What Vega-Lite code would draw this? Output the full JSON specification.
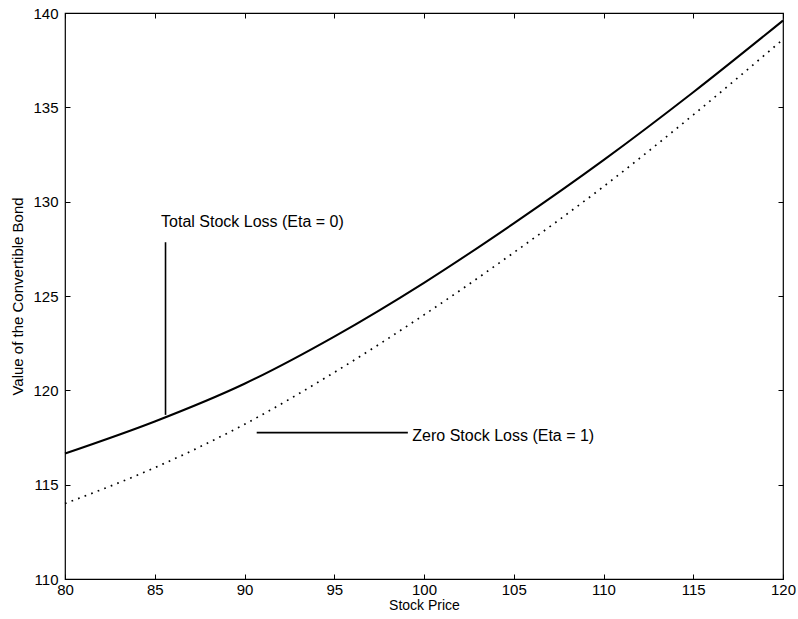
{
  "$schema": "https://vega.github.io/schema/vega-lite/v6.json",
  "width": 718,
  "height": 566,
  "autosize": {"type": "none"},
  "padding": {"left": 65, "top": 13, "right": 15, "bottom": 40},
  "background": "white",
  "config": {
    "view": {"stroke": "black", "strokeWidth": 1.2},
    "font": "Liberation Sans",
    "axis": {
      "domain": false,
      "grid": false,
      "labelFlush": false,
      "labelOverlap": false,
      "tickColor": "black",
      "tickSize": -5,
      "tickWidth": 1,
      "labelColor": "black",
      "labelFont": "Liberation Sans",
      "labelFontSize": 15,
      "titleFont": "Liberation Sans",
      "titleFontSize": 14,
      "titleFontWeight": "normal",
      "titleColor": "black"
    }
  },
  "datasets": {
    "curves": [
      {"price": 80, "value": 116.65, "case": "Total"},
      {"price": 85, "value": 118.35, "case": "Total"},
      {"price": 90, "value": 120.35, "case": "Total"},
      {"price": 95, "value": 122.85, "case": "Total"},
      {"price": 100, "value": 125.7, "case": "Total"},
      {"price": 105, "value": 128.85, "case": "Total"},
      {"price": 110, "value": 132.2, "case": "Total"},
      {"price": 115, "value": 135.8, "case": "Total"},
      {"price": 120, "value": 139.6, "case": "Total"},
      {"price": 80, "value": 114.0, "case": "Zero"},
      {"price": 85, "value": 115.9, "case": "Zero"},
      {"price": 90, "value": 118.2, "case": "Zero"},
      {"price": 95, "value": 120.95, "case": "Zero"},
      {"price": 100, "value": 124.0, "case": "Zero"},
      {"price": 105, "value": 127.3, "case": "Zero"},
      {"price": 110, "value": 130.8, "case": "Zero"},
      {"price": 115, "value": 134.6, "case": "Zero"},
      {"price": 120, "value": 138.6, "case": "Zero"}
    ],
    "pointers": [
      {"x": 85.6, "y": 127.85, "x2": 85.6, "y2": 118.7},
      {"x": 90.68, "y": 117.76, "x2": 99.1, "y2": 117.76}
    ],
    "labels": [
      {"x": 85.35, "y": 128.9, "label": "Total Stock Loss (Eta = 0)"},
      {"x": 99.35, "y": 117.6, "label": "Zero Stock Loss (Eta = 1)"}
    ]
  },
  "layer": [
    {
      "data": {"name": "curves"},
      "transform": [{"filter": "datum.case === 'Total'"}],
      "mark": {"type": "line", "color": "black", "strokeWidth": 2, "interpolate": "monotone"},
      "encoding": {
        "x": {"field": "price", "type": "quantitative", "scale": {"domain": [80, 120], "nice": false},
              "axis": {"title": "Stock Price", "values": [80, 85, 90, 95, 100, 105, 110, 115, 120], "labelPadding": 8, "titlePadding": 1}},
        "y": {"field": "value", "type": "quantitative", "scale": {"domain": [110, 140], "nice": false, "zero": false},
              "axis": {"title": "Value of the Convertible Bond", "values": [110, 115, 120, 125, 130, 135, 140], "labelPadding": 12, "titlePadding": 7, "titleFontSize": 15}}
      }
    },
    {
      "data": {"name": "curves"},
      "transform": [{"filter": "datum.case === 'Zero'"}],
      "mark": {"type": "line", "color": "black", "strokeWidth": 1.7, "strokeDash": [1.7, 5.3], "interpolate": "monotone"},
      "encoding": {
        "x": {"field": "price", "type": "quantitative", "axis": null},
        "y": {"field": "value", "type": "quantitative", "axis": null}
      }
    },
    {
      "data": {"name": "pointers"},
      "mark": {"type": "rule", "color": "black", "strokeWidth": 1.6},
      "encoding": {
        "x": {"field": "x", "type": "quantitative", "axis": null},
        "y": {"field": "y", "type": "quantitative", "axis": null},
        "x2": {"field": "x2"},
        "y2": {"field": "y2"}
      }
    },
    {
      "data": {"name": "labels"},
      "mark": {"type": "text", "align": "left", "baseline": "middle", "font": "Liberation Sans", "fontSize": 16, "color": "black"},
      "encoding": {
        "x": {"field": "x", "type": "quantitative",
              "axis": {"orient": "top", "labels": false, "title": null, "values": [80, 85, 90, 95, 100, 105, 110, 115, 120]}},
        "y": {"field": "y", "type": "quantitative",
              "axis": {"orient": "right", "labels": false, "title": null, "values": [110, 115, 120, 125, 130, 135, 140]}},
        "text": {"field": "label"}
      }
    }
  ],
  "resolve": {"axis": {"x": "independent", "y": "independent"}}
}
